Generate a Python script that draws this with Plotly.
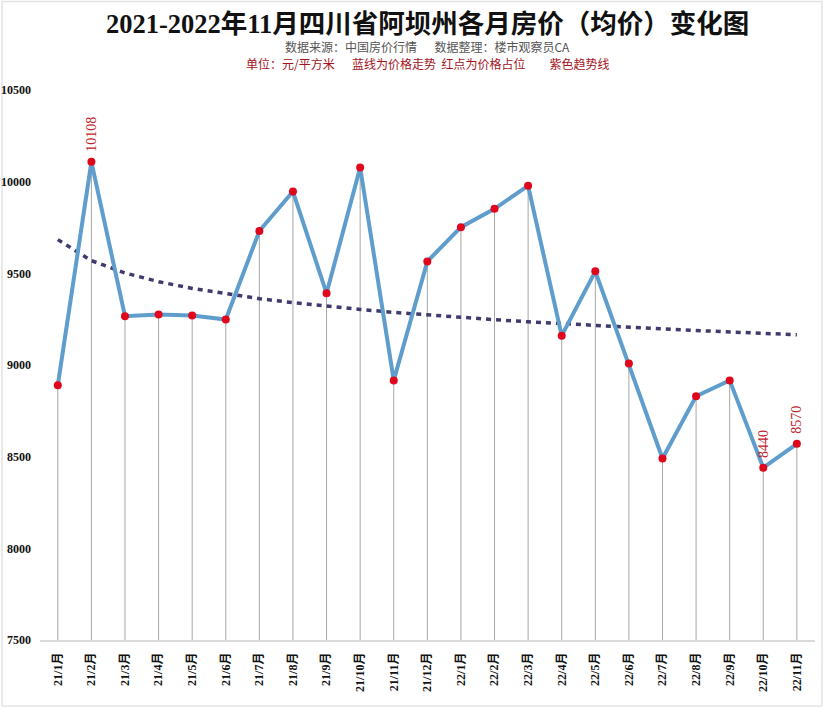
import numpy as np
import plotly.graph_objects as go

# 阿坝州 2021/1 - 2022/11 月均价（元/平方米）
months = ['21/1月', '21/2月', '21/3月', '21/4月', '21/5月', '21/6月', '21/7月', '21/8月',
          '21/9月', '21/10月', '21/11月', '21/12月', '22/1月', '22/2月', '22/3月', '22/4月',
          '22/5月', '22/6月', '22/7月', '22/8月', '22/9月', '22/10月', '22/11月']
prices = [8890, 10108, 9266, 9275, 9270, 9248, 9731, 9946, 9391, 10077, 8916, 9565,
          9752, 9852, 9978, 9160, 9511, 9008, 8490, 8830, 8916, 8440, 8570]
labelled = ['21/2月', '22/10月', '22/11月']
y_ticks = [7500, 8000, 8500, 9000, 9500, 10000, 10500]

# 对数趋势线（和 Excel 的对数趋势一样，用最小二乘拟合）
idx = np.arange(1, len(prices) + 1)
b, a = np.polyfit(np.log(idx), prices, 1)
trend = a + b * np.log(idx)

serif = 'Liberation Serif, Times New Roman, Noto Sans CJK SC, serif'
base = y_ticks[0]

fig = go.Figure()

# 灰色竖线：从每个点落到横轴
fig.add_trace(go.Scatter(
    x=months, y=prices, mode='markers',
    marker=dict(size=1, color='rgba(0,0,0,0)'),
    error_y=dict(type='data', symmetric=False, array=[0] * len(prices),
                 arrayminus=[p - base for p in prices],
                 color='#a6a6a6', thickness=1, width=0),
    hoverinfo='skip', showlegend=False))

fig.add_trace(go.Scatter(
    x=months, y=trend, mode='lines',
    line=dict(color='#3f3b6e', width=3.5, dash='5px,5px'),
    hoverinfo='skip', showlegend=False))

fig.add_trace(go.Scatter(
    x=months, y=prices, mode='lines+markers',
    line=dict(color='#5f9dcc', width=4),
    marker=dict(size=8, color='#e0061c'),
    showlegend=False))

for m, p in zip(months, prices):
    if m in labelled:
        fig.add_annotation(x=m, y=p, text=str(p), showarrow=False, textangle=-90,
                           yanchor='bottom', yshift=8,
                           font=dict(family=serif, size=14, color='#c0242c'))

fig.add_annotation(xref='paper', yref='paper', x=0.5, y=1, yanchor='middle',
                   xanchor='center', yshift=66, showarrow=False,
                   text='<b>2021-2022年11月四川省阿坝州各月房价（均价）变化图</b>',
                   font=dict(family=serif, size=26.5, color='#111111'))
fig.add_annotation(xref='paper', yref='paper', x=0.5, y=1, yanchor='middle',
                   xanchor='center', yshift=43.5, showarrow=False,
                   text='数据来源：中国房价行情\u3000\u00a0\u00a0数据整理：楼市观察员CA',
                   font=dict(family='Noto Sans CJK SC', size=12, color='#555555'))
fig.add_annotation(xref='paper', yref='paper', x=0.5, y=1, yanchor='middle',
                   xanchor='center', yshift=26.5, showarrow=False,
                   text='单位：元/平方米\u3000\u00a0 蓝线为价格走势\u00a0\u00a0红点为价格占位\u3000\u3000紫色趋势线',
                   font=dict(family='Noto Sans CJK SC', size=12, color='#a3131c'))

# 浅灰外框
fig.add_shape(type='rect', xref='paper', yref='paper',
              x0=-0.049, x1=1.009, y0=-0.12, y1=1.161,
              line=dict(color='#e3e3e3', width=1.5), layer='below')

fig.update_layout(
    width=826, height=708,
    margin=dict(l=40, r=11, t=90, b=68),
    paper_bgcolor='white', plot_bgcolor='white',
    font=dict(family=serif, color='#111111'),
)
fig.update_xaxes(range=[-0.53, len(months) - 0.46], showgrid=False, showline=True,
                 linecolor='#d9d9d9', linewidth=1.5, ticks='', tickangle=-90,
                 ticklabelstandoff=6, automargin=False,
                 tickfont=dict(family=serif, size=12, color='#111111', weight='bold'))
fig.update_yaxes(range=[y_ticks[0], y_ticks[-1]], tickvals=y_ticks, tickformat='d',
                 showgrid=False, zeroline=False, showline=False, ticks='',
                 ticklabelstandoff=8, automargin=False,
                 tickfont=dict(family=serif, size=12, color='#111111', weight='bold'))

# 去掉页面 body 的默认边距，让图正好铺满窗口
fig.write_html('out.html', config={'displayModeBar': False},
               post_script="document.body.style.margin = '0';")
